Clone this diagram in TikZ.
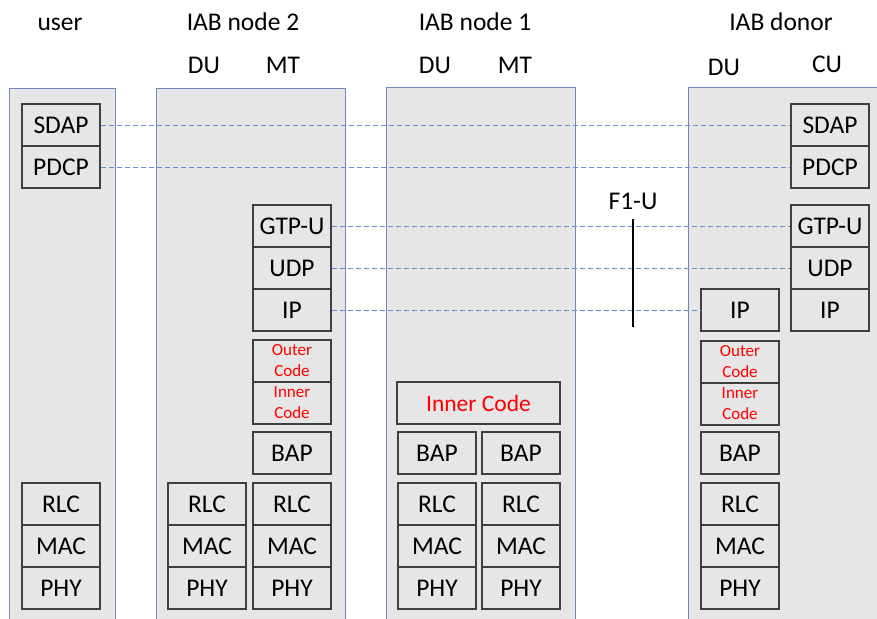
\documentclass[tikz,border=0pt]{standalone}
\usepackage{fontspec}
\setmainfont{Carlito}
\definecolor{panelfill}{HTML}{E7E6E6}
\definecolor{panelline}{HTML}{7189BA}
\definecolor{boxline}{HTML}{3F3F3F}
\definecolor{linkblue}{HTML}{6A8ED6}
\definecolor{codered}{HTML}{FF0000}
\tikzset{
  panel/.style={draw=panelline, fill=panelfill, line width=1pt, rectangle, inner sep=0pt},
  layer/.style={draw=boxline, fill=panelfill, line width=1.3pt, rectangle, inner sep=0pt,
    minimum width=78pt, minimum height=42pt, font=\fontsize{25.5}{30}\selectfont},
  codebox/.style={layer, align=center, text=codered, font=\fontsize{17}{21}\selectfont},
  head/.style={anchor=base, inner sep=0pt, font=\fontsize{25.5}{30}\selectfont},
  link/.style={draw=linkblue, line width=0.9pt, dash pattern=on 5pt off 3pt},
}
\begin{document}
\begin{tikzpicture}[x=1pt,y=-1pt]
\useasboundingbox (0,0) rectangle (877,618);

% column backgrounds
\node[panel, anchor=north west, minimum width=106pt, minimum height=540pt] (p-user) at (9,88) {};
\node[panel, anchor=north west, minimum width=189pt, minimum height=540pt] (p-n2) at (156,88) {};
\node[panel, anchor=north west, minimum width=189pt, minimum height=540pt] (p-n1) at (386,87) {};
\node[panel, anchor=north west, minimum width=220pt, minimum height=540pt] (p-donor) at (688,87) {};

% headings
\node[head] (h-user) at (60,31) {user};
\node[head] (h-n2) at (243,31) {IAB node 2};
\node[head] (h-n1) at (475,31) {IAB node 1};
\node[head] (h-donor) at (781,31) {IAB donor};
\node[head] (h-n2du) at (204,73) {DU};
\node[head] (h-n2mt) at (283,73) {MT};
\node[head] (h-n1du) at (435,73) {DU};
\node[head] (h-n1mt) at (515,73) {MT};
\node[head] (h-ddu) at (724,75) {DU};
\node[head] (h-dcu) at (827,72) {CU};

% user stack
\node[layer] (u-sdap) at (61,125) {SDAP};
\node[layer] (u-pdcp) at (61,167) {PDCP};
\node[layer] (u-rlc) at (61,504) {RLC};
\node[layer] (u-mac) at (61,546) {MAC};
\node[layer] (u-phy) at (61,588) {PHY};

% IAB node 2
\node[layer] (n2-gtp) at (292,226) {GTP-U};
\node[layer] (n2-udp) at (292,268) {UDP};
\node[layer] (n2-ip) at (292,310) {IP};
\node[codebox] (n2-outer) at (292,361) {Outer\\Code};
\node[codebox] (n2-inner) at (292,403) {Inner\\Code};
\node[layer] (n2-bap) at (292,453) {BAP};
\node[layer] (n2du-rlc) at (207,504) {RLC};
\node[layer] (n2du-mac) at (207,546) {MAC};
\node[layer] (n2du-phy) at (207,588) {PHY};
\node[layer] (n2mt-rlc) at (292,504) {RLC};
\node[layer] (n2mt-mac) at (292,546) {MAC};
\node[layer] (n2mt-phy) at (292,588) {PHY};

% IAB node 1
\node[layer, minimum width=163pt, text=codered, font=\fontsize{23.5}{28}\selectfont] (n1-inner) at (478.5,403) {Inner Code};
\node[layer] (n1du-bap) at (437,453) {BAP};
\node[layer] (n1mt-bap) at (521,453) {BAP};
\node[layer] (n1du-rlc) at (437,504) {RLC};
\node[layer] (n1du-mac) at (437,546) {MAC};
\node[layer] (n1du-phy) at (437,588) {PHY};
\node[layer] (n1mt-rlc) at (521,504) {RLC};
\node[layer] (n1mt-mac) at (521,546) {MAC};
\node[layer] (n1mt-phy) at (521,588) {PHY};

% IAB donor
\node[layer] (cu-sdap) at (830,125) {SDAP};
\node[layer] (cu-pdcp) at (830,167) {PDCP};
\node[layer] (cu-gtp) at (830,226) {GTP-U};
\node[layer] (cu-udp) at (830,268) {UDP};
\node[layer] (cu-ip) at (830,310) {IP};
\node[layer] (du-ip) at (740,310) {IP};
\node[codebox] (du-outer) at (740,362) {Outer\\Code};
\node[codebox] (du-inner) at (740,404) {Inner\\Code};
\node[layer] (du-bap) at (740,453) {BAP};
\node[layer] (du-rlc) at (740,504) {RLC};
\node[layer] (du-mac) at (740,546) {MAC};
\node[layer] (du-phy) at (740,588) {PHY};

% peer links
\draw[link] (u-sdap.east) -- (cu-sdap.west);
\draw[link] (u-pdcp.east) -- (cu-pdcp.west);
\draw[link] (n2-gtp.east) -- (cu-gtp.west);
\draw[link] (n2-udp.east) -- (cu-udp.west);
\draw[link] (n2-ip.east) -- (du-ip.west);

% F1-U interface marker
\node[head] (f1u) at (633,209) {F1-U};
\coordinate (f1-top) at (633,219);
\coordinate (f1-bot) at (633,327);
\draw[line width=2pt] (f1-top) -- (f1-bot);
\end{tikzpicture}
\end{document}
